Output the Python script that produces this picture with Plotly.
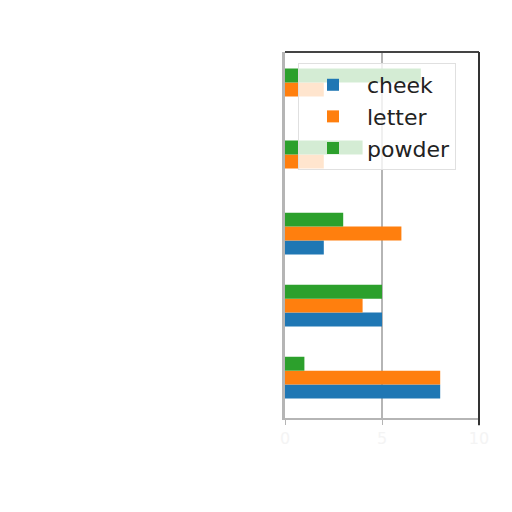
import plotly.graph_objects as go

# group positions (bottom to top) and series values
positions = [0, 1, 2, 3, 4]
cheek = [8, 5, 2, 0, 0]
letter = [8, 4, 6, 2, 2]
powder = [1, 5, 3, 4, 7]
x_ticks = [0, 5, 10]

series = [("cheek", cheek, "#1f77b4"),
          ("letter", letter, "#ff7f0e"),
          ("powder", powder, "#2ca02c")]

fig = go.Figure()
for name, vals, color in series:
    fig.add_trace(go.Bar(y=positions, x=vals, name=name, orientation="h",
                         marker=dict(color=color, line=dict(width=0))))

fig.update_layout(
    width=504, height=504,
    margin=dict(l=277, r=33, t=44, b=94),
    paper_bgcolor="white", plot_bgcolor="white",
    barmode="group", bargap=0.42, bargroupgap=0,
    font=dict(family="DejaVu Sans", color="#222222"),
    legend=dict(x=0.067, y=0.97, xanchor="left", yanchor="top",
                traceorder="normal", bgcolor="rgba(255,255,255,0.8)",
                bordercolor="#e0e0e0", borderwidth=1,
                font=dict(size=22, color="#222222"), itemwidth=58),
    showlegend=True,
)
fig.update_xaxes(range=[0, 10], tickvals=x_ticks, showgrid=True,
                 gridcolor="#b5b5b5", gridwidth=2, zeroline=False,
                 showline=True, linecolor="#b5b5b5", linewidth=2,
                 ticks="outside", ticklen=5, tickcolor="#b5b5b5",
                 tickfont=dict(size=16, color="#f4f4f4"))
fig.update_yaxes(range=[-0.56, 4.52], showticklabels=False, showgrid=False,
                 zeroline=False, showline=True, linecolor="#b5b5b5",
                 linewidth=3)

# darker top and right spines
fig.add_shape(type="line", xref="x domain", yref="y domain",
              x0=0, x1=1, y0=1, y1=1, line=dict(color="#444444", width=2))
fig.add_shape(type="line", xref="x domain", yref="y domain",
              x0=1, x1=1, y0=-0.02, y1=1, line=dict(color="#333333", width=2))

fig.write_html("out.html")
